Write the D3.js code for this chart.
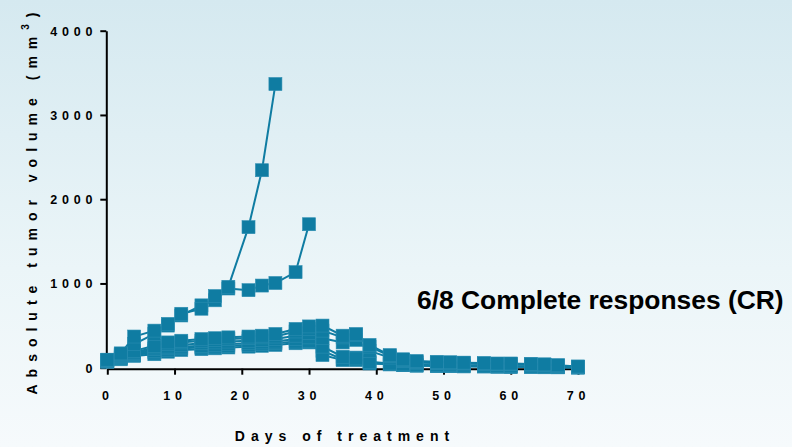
<!DOCTYPE html>
<html>
<head>
<meta charset="utf-8">
<script src="https://cdn.jsdelivr.net/npm/d3@7"></script>
<style>
  html, body { margin: 0; padding: 0; background: #f4f9fb; }
  svg { display: block; }
  text { font-family: "Liberation Sans", Arial, sans-serif; font-weight: bold; fill: #000; }
</style>
</head>
<body>
<svg id="chart" width="792" height="447"></svg>
<script>
// Measurement days (days of treatment)
const days = [0, 2, 4, 7, 9, 11, 14, 16, 18, 21, 23, 25, 28, 30, 32, 35, 37, 39, 42, 44, 46, 49, 51, 53, 56, 58, 60, 63, 65, 67, 70];

// Tumor volume per mouse (mm³); null = no measurement (animal removed)
const mouse1 = [95, 170, 370, 440, 520, 640, 700, 850, 960, 1668, 2344, 3367, null, null, null, null, null, null, null, null, null, null, null, null, null, null, null, null, null, null, null];
const mouse2 = [90, 160, 280, 400, 500, 620, 740, 800, 940, 920, 975, 1005, 1134, 1703, null, null, null, null, null, null, null, null, null, null, null, null, null, null, null, null, null];
const mouse3 = [90, 150, 200, 260, 300, 320, 340, 350, 360, 370, 380, 400, 460, 490, 500, 380, 400, 270, 150, 100, 80, 70, 65, 60, 55, 50, 50, 45, 40, 30, 15];
const mouse4 = [85, 140, 180, 240, 280, 300, 320, 330, 340, 350, 360, 370, 430, 460, 440, 360, 390, 250, 140, 90, 70, 60, 55, 55, 50, 45, 45, 40, 35, 25, 10];
const mouse5 = [80, 130, 170, 220, 250, 270, 290, 300, 310, 320, 330, 340, 380, 410, 350, 300, 330, 200, 120, 80, 60, 55, 50, 50, 45, 40, 40, 35, 30, 20, 10];
const mouse6 = [80, 120, 160, 200, 230, 250, 260, 270, 280, 290, 300, 310, 340, 360, 250, 130, 110, 70, 50, 40, 35, 30, 30, 25, 25, 20, 20, 15, 15, 10, 5];
const mouse7 = [75, 110, 150, 180, 210, 230, 240, 250, 260, 270, 280, 290, 310, 320, 150, 90, 90, 50, 40, 30, 25, 20, 20, 20, 15, 15, 10, 10, 10, 5, 5];
const mouse8 = [70, 100, 140, 160, 190, 210, 220, 230, 240, 250, 260, 270, 290, 300, 200, 100, 120, 60, 40, 30, 25, 20, 20, 15, 15, 10, 10, 10, 5, 5, 0];
const mice = [mouse8, mouse7, mouse6, mouse5, mouse4, mouse3, mouse2, mouse1];

const xTicks = [0, 10, 20, 30, 40, 50, 60, 70];
const yTicks = [0, 1000, 2000, 3000, 4000];
const xTitle = "Days of treatment";
const yTitle = "Absolute tumor volume (mm";
const annotation = "6/8 Complete responses (CR)";

const svg = d3.select("#chart");
const W = 792, H = 447;
const color = "#0f7ca2";

// Background: soft vertical gradient
const defs = svg.append("defs");
const grad = defs.append("linearGradient").attr("id", "bg").attr("x1", 0).attr("y1", 0).attr("x2", 0).attr("y2", 1);
grad.append("stop").attr("offset", "0%").attr("stop-color", "#d5e9f0");
grad.append("stop").attr("offset", "60%").attr("stop-color", "#ebf5f8");
grad.append("stop").attr("offset", "100%").attr("stop-color", "#f6fafc");
svg.append("rect").attr("width", W).attr("height", H).attr("fill", "url(#bg)");

const x = d3.scaleLinear().domain([0, 70]).range([107.3, 578]);
const y = d3.scaleLinear().domain([0, 4000]).range([367.7, 30.7]);

// Axes
const yAxis = svg.append("g")
  .attr("transform", `translate(${x(0) - 1},0)`)
  .call(d3.axisLeft(y).tickValues(yTicks).tickFormat(d3.format("d")).tickSize(6).tickSizeOuter(0).tickPadding(3));
const xAxis = svg.append("g")
  .attr("transform", `translate(0,${y(0) + 1})`)
  .call(d3.axisBottom(x).tickValues(xTicks).tickFormat(d3.format("d")).tickSize(6).tickSizeOuter(0));

[yAxis, xAxis].forEach(g => {
  g.select(".domain").attr("stroke", "#000").attr("stroke-width", 2);
  g.selectAll(".tick line").attr("stroke", "#000").attr("stroke-width", 2);
  g.selectAll(".tick text")
    .style("font-family", "'Liberation Sans', Arial, sans-serif")
    .style("font-weight", "bold")
    .style("font-size", "12.5px")
    .style("letter-spacing", "4.8px")
    .attr("fill", "#000");
});
yAxis.selectAll(".tick text").attr("dy", "0.36em");
xAxis.selectAll(".tick text").attr("y", 31).attr("dy", 0);

// Axis titles
svg.append("text")
  .attr("x", 345).attr("y", 441)
  .attr("text-anchor", "middle")
  .style("font-size", "14px")
  .style("letter-spacing", "6px")
  .text(xTitle);

const yt = svg.append("text")
  .attr("transform", "translate(37,200) rotate(-90)")
  .attr("text-anchor", "middle")
  .style("font-size", "14px")
  .style("letter-spacing", "7px");
yt.append("tspan").text(yTitle);
yt.append("tspan").attr("dy", -8).style("font-size", "10px").text("3");
yt.append("tspan").attr("dy", 8).text(")");

// Series: line then square markers for each mouse
const line = d3.line()
  .defined(d => d[1] != null)
  .x(d => x(d[0]))
  .y(d => y(d[1]));

const plot = svg.append("g");
const s = 13;
mice.forEach(vals => {
  const pts = days.map((d, i) => [d, vals[i]]).filter(p => p[1] != null);
  const g = plot.append("g");
  g.append("path")
    .attr("d", line(pts))
    .attr("fill", "none")
    .attr("stroke", color)
    .attr("stroke-width", 2);
  g.selectAll("rect")
    .data(pts)
    .join("rect")
    .attr("x", p => x(p[0]) - s / 2)
    .attr("y", p => y(p[1]) - s / 2)
    .attr("width", s)
    .attr("height", s)
    .attr("fill", color)
    .attr("stroke", "#2b8db1")
    .attr("stroke-width", 0.6);
});

// Annotation
svg.append("text")
  .attr("x", 417).attr("y", 309)
  .style("font-size", "26.4px")
  .text(annotation);
</script>
</body>
</html>
